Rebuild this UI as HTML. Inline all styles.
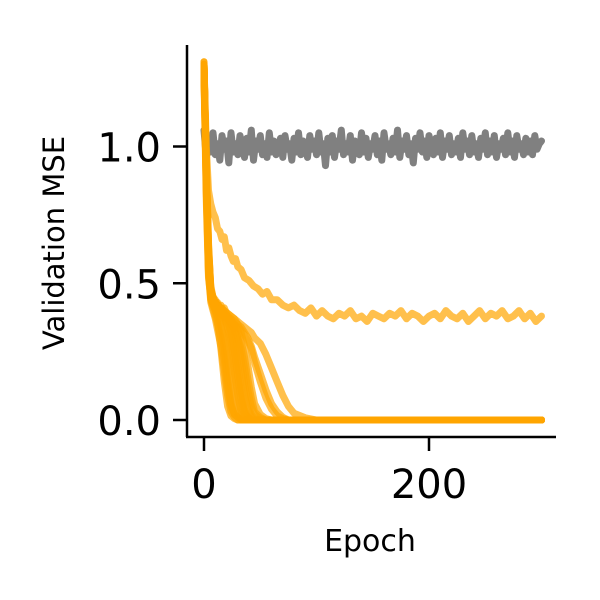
<!DOCTYPE html>
<html><head><meta charset="utf-8"><style>
html,body{margin:0;padding:0;background:#fff;}
svg{display:block;font-family:"DejaVu Sans","Liberation Sans",sans-serif;}
</style></head><body>
<svg id="chart" width="600" height="600" viewBox="0 0 600 600">
<rect width="600" height="600" fill="#fff"/>
<g id="series"></g>
<line x1="187" y1="45" x2="187" y2="437" stroke="#000" stroke-width="2.5"/>
<line x1="186" y1="437" x2="556" y2="437" stroke="#000" stroke-width="2.5"/>
<g id="ticks"></g>
<text x="370" y="551" font-size="30" text-anchor="middle">Epoch</text>
<text transform="translate(64,243) rotate(-90)" font-size="29" text-anchor="middle">Validation MSE</text>
</svg>
<script>
const xTicks=[0,200];
const xTickLabels=["0","200"];
const yTicks=[0,0.5,1.0];
const yTickLabels=["0.0","0.5","1.0"];
const grayValues=[1.06,0.96,1.03,0.98,1.05,0.97,1.01,0.95,1.04,0.99,1.02,0.94,1.05,0.98,1.01,0.97,1.04,1.00,0.96,1.03,0.98,1.06,0.95,1.02,0.99,1.04,0.97,1.01,0.96,1.05,0.98,1.02,0.97,1.00,1.03,0.96,1.04,0.99,1.01,0.95,1.03,0.98,1.05,0.97,1.02,1.00,0.96,1.04,0.99,1.02,0.97,1.05,0.98,1.01,0.93,1.03,0.98,1.04,0.96,1.02,0.99,1.06,0.97,1.01,0.98,1.04,0.95,1.02,1.00,0.97,1.05,0.98,1.03,0.96,1.01,0.99,1.04,0.97,1.02,0.95,1.05,0.99,1.01,0.97,1.03,0.98,1.06,0.96,1.02,0.99,1.04,0.97,1.01,0.94,1.03,0.99,1.05,0.98,1.02,0.96,1.04,1.00,0.97,1.03,0.98,1.05,0.96,1.02,0.99,1.04,0.97,1.01,0.98,1.03,0.96,1.05,0.99,1.02,0.97,1.04,0.98,1.01,0.96,1.03,0.99,1.05,0.97,1.02,0.98,1.04,0.96,1.01,0.99,1.03,0.97,1.05,0.98,1.02,0.96,1.04,0.99,1.01,0.97,1.03,0.98,1.02,0.97,1.04,0.99,1.01,1.02];
const orangeEpochs=[0,2,4,6,8,10,12,15,18,21,24,27,30,33,36,39,42,45,50,55,60,65,70,75,80,90,100,120,150,200,300];
const orangeRuns=[
[1.30,0.85,0.55,0.45,0.42,0.40,0.36,0.26,0.14,0.05,0.015,0.005,0,0,0,0,0,0,0,0,0,0,0,0,0,0,0,0,0,0,0],
[1.28,0.90,0.60,0.47,0.43,0.41,0.40,0.35,0.26,0.15,0.06,0.02,0.01,0,0,0,0,0,0,0,0,0,0,0,0,0,0,0,0,0,0],
[1.31,0.95,0.65,0.48,0.44,0.43,0.41,0.40,0.35,0.28,0.18,0.08,0.03,0.01,0,0,0,0,0,0,0,0,0,0,0,0,0,0,0,0,0],
[1.25,0.80,0.52,0.45,0.43,0.42,0.41,0.39,0.38,0.34,0.27,0.17,0.09,0.03,0.01,0,0,0,0,0,0,0,0,0,0,0,0,0,0,0,0],
[1.30,0.88,0.58,0.47,0.44,0.43,0.41,0.42,0.39,0.38,0.35,0.29,0.20,0.11,0.04,0.015,0,0,0,0,0,0,0,0,0,0,0,0,0,0,0],
[1.29,0.92,0.62,0.48,0.45,0.42,0.43,0.40,0.41,0.38,0.37,0.34,0.30,0.22,0.13,0.06,0.02,0.005,0,0,0,0,0,0,0,0,0,0,0,0,0],
[1.27,0.86,0.56,0.46,0.43,0.41,0.42,0.39,0.38,0.37,0.35,0.33,0.30,0.26,0.19,0.11,0.05,0.02,0.005,0,0,0,0,0,0,0,0,0,0,0,0],
[1.30,0.93,0.63,0.49,0.45,0.44,0.42,0.41,0.40,0.39,0.38,0.37,0.35,0.32,0.27,0.20,0.12,0.06,0.02,0.005,0,0,0,0,0,0,0,0,0,0,0],
[1.26,0.84,0.54,0.44,0.41,0.38,0.35,0.30,0.22,0.12,0.05,0.02,0.01,0,0,0,0,0,0,0,0,0,0,0,0,0,0,0,0,0,0],
[1.31,0.90,0.59,0.46,0.43,0.42,0.40,0.39,0.37,0.34,0.30,0.22,0.13,0.06,0.02,0.01,0,0,0,0,0,0,0,0,0,0,0,0,0,0,0],
[1.28,0.87,0.57,0.44,0.42,0.40,0.38,0.34,0.30,0.22,0.12,0.05,0.02,0,0,0,0,0,0,0,0,0,0,0,0,0,0,0,0,0,0],
[1.30,0.91,0.61,0.47,0.44,0.43,0.42,0.40,0.38,0.36,0.32,0.25,0.16,0.08,0.03,0.01,0,0,0,0,0,0,0,0,0,0,0,0,0,0,0],
[1.29,0.89,0.58,0.46,0.44,0.41,0.42,0.40,0.39,0.37,0.36,0.33,0.27,0.18,0.09,0.04,0.01,0,0,0,0,0,0,0,0,0,0,0,0,0,0],
[1.27,0.83,0.53,0.43,0.40,0.37,0.33,0.27,0.18,0.09,0.03,0.01,0,0,0,0,0,0,0,0,0,0,0,0,0,0,0,0,0,0,0],
[1.30,0.92,0.62,0.47,0.45,0.43,0.41,0.41,0.39,0.38,0.36,0.35,0.33,0.29,0.23,0.15,0.08,0.03,0.01,0,0,0,0,0,0,0,0,0,0,0,0],
[1.30,0.92,0.62,0.47,0.44,0.42,0.41,0.40,0.39,0.38,0.37,0.36,0.35,0.34,0.32,0.30,0.27,0.23,0.17,0.11,0.06,0.03,0.01,0,0,0,0,0,0,0,0],
[1.29,0.94,0.64,0.48,0.45,0.43,0.42,0.41,0.40,0.39,0.38,0.37,0.36,0.35,0.34,0.33,0.32,0.30,0.28,0.24,0.19,0.14,0.09,0.05,0.025,0.008,0,0,0,0,0],
[1.30,0.91,0.61,0.46,0.43,0.41,0.40,0.39,0.38,0.37,0.36,0.35,0.34,0.33,0.31,0.29,0.26,0.21,0.14,0.08,0.04,0.015,0.005,0,0,0,0,0,0,0,0]
];
const plateauEpochs=[0,2,4,6,8,10,12,14,16,18,20,22,24,26,28,30,33,36,40,44,48,52,56,60,65,70,75,80,85,90,95,100,105,110,115,120,125,130,135,140,145,150,155,160,165,170,175,180,185,190,195,200,205,210,215,220,225,230,235,240,245,250,255,260,265,270,275,280,285,290,295,300];
const plateauValues=[1.30,1.00,0.84,0.79,0.76,0.74,0.70,0.69,0.66,0.67,0.62,0.63,0.60,0.58,0.59,0.56,0.55,0.52,0.51,0.49,0.48,0.46,0.47,0.44,0.44,0.42,0.41,0.42,0.40,0.39,0.41,0.38,0.40,0.38,0.37,0.39,0.38,0.40,0.37,0.38,0.36,0.39,0.38,0.37,0.39,0.38,0.40,0.37,0.39,0.38,0.36,0.38,0.39,0.37,0.40,0.38,0.37,0.39,0.36,0.38,0.40,0.37,0.39,0.38,0.40,0.37,0.38,0.40,0.37,0.39,0.36,0.38];
const grayStep=2;

const NS="http://www.w3.org/2000/svg";
const xS=e=>204+e*1.125;
const yS=v=>420-v*273.5;
const series=document.getElementById('series');
const ticks=document.getElementById('ticks');
function pathFrom(es,vs){return vs.map((v,i)=>(i?'L':'M')+xS(es[i]).toFixed(1)+','+yS(v).toFixed(1)).join('');}
function addPath(d,color,op,name){
  const p=document.createElementNS(NS,'path');
  p.setAttribute('d',d);p.setAttribute('fill','none');p.setAttribute('stroke',color);
  p.setAttribute('stroke-width','7');p.setAttribute('stroke-opacity',op);
  p.setAttribute('stroke-linejoin','round');p.setAttribute('stroke-linecap','round');
  
  
  series.appendChild(p);
}
const grayEpochs=grayValues.map((v,i)=>i*grayStep);
addPath(pathFrom(grayEpochs,grayValues),'#808080','1','baseline-gray-line');
orangeRuns.forEach((r,i)=>addPath(pathFrom(orangeEpochs,r),'#FFA500','0.7','orange-run-line'));
addPath(pathFrom(plateauEpochs,plateauValues),'#FFA500','0.7','orange-plateau-line');
xTicks.forEach((t,i)=>{
  const l=document.createElementNS(NS,'line');
  l.setAttribute('x1',xS(t));l.setAttribute('x2',xS(t));l.setAttribute('y1',437);l.setAttribute('y2',451);
  l.setAttribute('stroke','#000');l.setAttribute('stroke-width','2.5');
  
  
  ticks.appendChild(l);
  const tx=document.createElementNS(NS,'text');
  tx.setAttribute('x',xS(t));tx.setAttribute('y',498);tx.setAttribute('font-size','40');tx.setAttribute('text-anchor','middle');
  tx.textContent=xTickLabels[i];
  
  
  ticks.appendChild(tx);
});
yTicks.forEach((t,i)=>{
  const l=document.createElementNS(NS,'line');
  l.setAttribute('x1',173);l.setAttribute('x2',187);l.setAttribute('y1',yS(t));l.setAttribute('y2',yS(t));
  l.setAttribute('stroke','#000');l.setAttribute('stroke-width','2.5');
  
  
  ticks.appendChild(l);
  const tx=document.createElementNS(NS,'text');
  tx.setAttribute('x',161);tx.setAttribute('y',yS(t)+15);tx.setAttribute('font-size','40');tx.setAttribute('text-anchor','end');
  tx.textContent=yTickLabels[i];
  
  
  ticks.appendChild(tx);
});
</script>
</body></html>
